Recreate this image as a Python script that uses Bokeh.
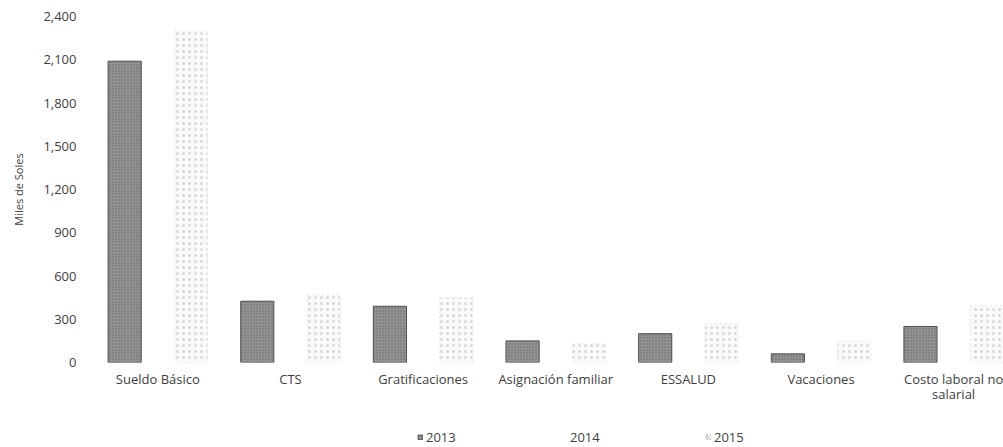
import numpy as np
from bokeh.plotting import figure
from bokeh.layouts import column
from bokeh.models import (Range1d, FixedTicker, Legend, LegendItem,
                          NumeralTickFormatter, ColumnDataSource)
from bokeh.embed import file_html
from bokeh.resources import INLINE

categories = ["Sueldo Básico", "CTS", "Gratificaciones", "Asignación familiar",
              "ESSALUD", "Vacaciones", "Costo laboral no\nsalarial"]
series_names = ["2013", "2014", "2015"]
values_2013 = [2090, 425, 390, 150, 200, 60, 250]
values_2015 = [2300, 470, 450, 130, 270, 150, 395]
y_ticks = [0, 300, 600, 900, 1200, 1500, 1800, 2100, 2400]

FONT = "Open Sans"
TXT = "#404040"

STYLE_13 = dict(fill_color="#939393", line_color="#505050", line_width=1,
                hatch_pattern="dot", hatch_color="#5e5e5e", hatch_scale=3,
                hatch_weight=1, hatch_alpha=0.8)
STYLE_14 = dict(fill_color="white", line_color=None)
STYLE_15 = dict(fill_color="#fafafa", line_color="#e6e6e6", line_width=1,
                line_dash="2 3", hatch_pattern="dot", hatch_color="#cfcfcf",
                hatch_scale=6, hatch_weight=1, hatch_alpha=0.8)
STYLE_15_KEY = dict(STYLE_15, line_color="#9a9a9a", line_dash="2 2")

idx = np.arange(len(categories))
src13 = ColumnDataSource(dict(x=idx - 0.25, top=values_2013))
src15 = ColumnDataSource(dict(x=idx + 0.25, top=values_2015))

p = figure(width=1003, height=417, output_backend="svg", toolbar_location=None,
           x_range=Range1d(-0.5, 6.376), y_range=Range1d(0, 2400),
           min_border_left=91, min_border_right=0, min_border_top=16,
           min_border_bottom=55)
p.outline_line_color = None
p.xgrid.grid_line_color = None
p.ygrid.grid_line_color = None

p.vbar(x="x", top="top", width=0.25, bottom=0, source=src13, **STYLE_13)
p.vbar(x="x", top="top", width=0.25, bottom=0, source=src15, **STYLE_15)

# y axis
yax = p.yaxis[0]
yax.ticker = FixedTicker(ticks=y_ticks)
yax.formatter = NumeralTickFormatter(format="0,0")
yax.axis_line_color = None
yax.major_tick_line_color = None
yax.minor_tick_line_color = None
yax.major_tick_out = 0
yax.major_tick_in = 0
yax.major_label_standoff = 15
yax.major_label_text_font = FONT
yax.major_label_text_font_size = "13px"
yax.major_label_text_color = TXT
yax.axis_label = "Miles de Soles"
yax.axis_label_text_font = FONT
yax.axis_label_text_font_size = "11px"
yax.axis_label_text_font_style = "normal"
yax.axis_label_text_color = TXT
yax.axis_label_standoff = 14

# x axis
xax = p.xaxis[0]
xax.ticker = FixedTicker(ticks=list(idx))
xax.major_label_overrides = {int(i): c for i, c in zip(idx, categories)}
xax.axis_line_color = None
xax.major_tick_line_color = None
xax.minor_tick_line_color = None
xax.major_tick_out = 0
xax.major_tick_in = 0
xax.major_label_standoff = 7
xax.major_label_text_font = FONT
xax.major_label_text_font_size = "13px"
xax.major_label_text_color = TXT
xax.major_label_text_line_height = 0.85

# legend strip below the chart (swatch renderers sit outside the visible range)
p2 = figure(width=1003, height=30, output_backend="svg", toolbar_location=None,
            x_range=Range1d(0, 1), y_range=Range1d(0, 1),
            x_axis_location=None, y_axis_location=None,
            min_border_left=0, min_border_right=0, min_border_top=0,
            min_border_bottom=0)
p2.outline_line_color = None
p2.grid.visible = False
off = dict(x=[-10.0], top=[-10.0])
l13 = p2.vbar(x="x", top="top", bottom=-11, width=0.25, source=ColumnDataSource(off), **STYLE_13)
l14 = p2.vbar(x="x", top="top", bottom=-11, width=0.25, source=ColumnDataSource(off), **STYLE_14)
l15 = p2.vbar(x="x", top="top", bottom=-11, width=0.25, source=ColumnDataSource(off), **STYLE_15_KEY)

legend = Legend(items=[LegendItem(label=series_names[0], renderers=[l13]),
                       LegendItem(label=series_names[1], renderers=[l14]),
                       LegendItem(label=series_names[2], renderers=[l15])],
                orientation="horizontal", location=(326, 1),
                margin=0, padding=0, spacing=105,
                glyph_width=6, glyph_height=6, label_standoff=3,
                label_width=30, label_height=14,
                border_line_color=None, background_fill_alpha=0,
                label_text_font=FONT, label_text_font_size="13px",
                label_text_color=TXT)
p2.add_layout(legend)

layout = column(p, p2, spacing=0)
open("out.html", "w").write(file_html(layout, INLINE))
